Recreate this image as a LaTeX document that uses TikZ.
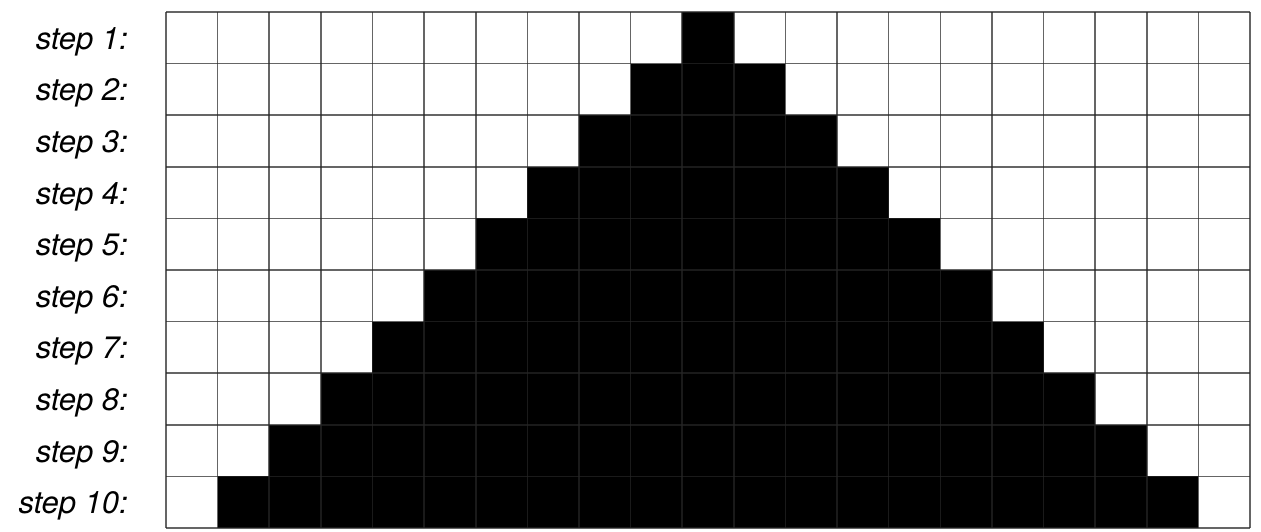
\documentclass[tikz,border=0pt]{standalone}
\usepackage{fontspec}
\setmainfont{TeX Gyre Heros}
\begin{document}
\begin{tikzpicture}[x=1pt,y=-1pt,
  cellfill/.style={fill=black},
  gridline/.style={draw=black!85, opacity=0.71, line width=1.6pt},
  steplabel/.style={anchor=base east, font=\fontsize{31}{36}\selectfont\itshape, inner sep=0pt}]
\useasboundingbox (0,0) rectangle (1261,531);
\def\cw{51.62}
\def\ch{51.6}
\def\xo{166}
\def\yo{12}
\foreach \k in {1,...,10}{
  \pgfmathsetmacro{\xa}{\xo+(11-\k)*\cw}
  \pgfmathsetmacro{\xb}{\xo+(10+\k)*\cw}
  \pgfmathsetmacro{\ya}{\yo+(\k-1)*\ch}
  \pgfmathsetmacro{\yb}{\yo+\k*\ch}
  \fill[cellfill] (\xa,\ya) rectangle (\xb,\yb);
  \pgfmathsetmacro{\yc}{\yo+(\k-0.5)*\ch+11.5}
  \node[steplabel] (s\k) at (128,\yc) {step \k:};
}
\foreach \i in {0,...,21}{
  \pgfmathsetmacro{\xx}{\xo+\i*\cw}
  \draw[gridline] (\xx,\yo) -- (\xx,\yo+10*\ch);
}
\foreach \j in {0,...,10}{
  \pgfmathsetmacro{\yy}{\yo+\j*\ch}
  \draw[gridline] (\xo,\yy) -- (\xo+21*\cw,\yy);
}
\end{tikzpicture}
\end{document}
